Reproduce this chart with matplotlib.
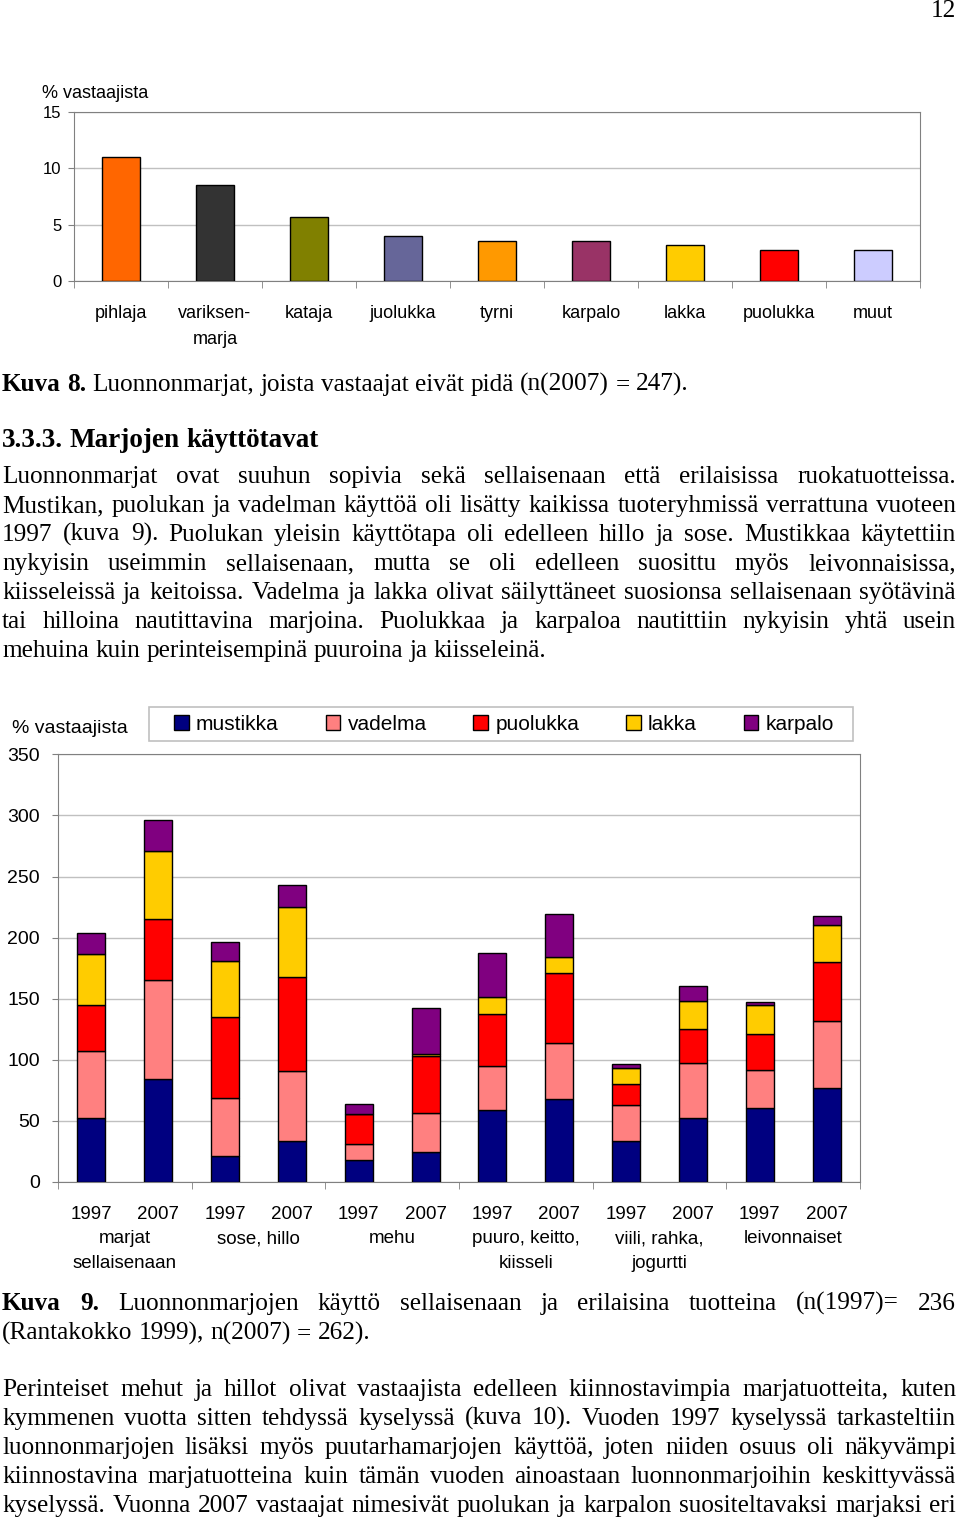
import numpy as np
import matplotlib.pyplot as plt
from matplotlib.transforms import IdentityTransform, blended_transform_factory
from matplotlib.patches import Rectangle

W, H = 960, 1523
plt.rcParams["font.family"] = ["Liberation Sans", "DejaVu Sans"]

# Kuva 8: marjat joista ei pidetä
marjat8 = ["pihlaja", "variksen-\nmarja", "kataja", "juolukka", "tyrni",
           "karpalo", "lakka", "puolukka", "muut"]
osuus8 = [11.0, 8.5, 5.7, 4.05, 3.6, 3.6, 3.25, 2.8, 2.8]
varit8 = ["#FF6600", "#333333", "#808000", "#666699", "#FF9900",
          "#993366", "#FFCC00", "#FF0000", "#CCCCFF"]

# Kuva 9: käyttötavat
vuodet = ["1997", "2007"] * 6
ryhmat = ["marjat\nsellaisenaan", "sose, hillo", "mehu", "puuro, keitto,\nkiisseli",
          "viili, rahka,\njogurtti", "leivonnaiset"]
sarjat = ["mustikka", "vadelma", "puolukka", "lakka", "karpalo"]
mustikka = [52.5, 84.5, 21.5, 33.5, 18, 24.5, 59, 68, 33.5, 52.5, 60.5, 77]
vadelma = [55, 81, 47.5, 57.5, 13, 32, 36, 45.5, 29.5, 45, 31.5, 55]
puolukka = [37, 50, 66, 77, 24.5, 47, 42.5, 57.5, 17.5, 28, 29.5, 48]
lakka = [42, 55, 45.5, 57, 0, 1, 14, 13, 12.5, 23, 23, 30.5]
karpalo = [17, 26, 16, 18, 8, 38, 36, 35, 3.5, 12, 3, 7.5]
varit9 = ["#000080", "#FF8080", "#FF0000", "#FFCC00", "#800080"]

fig = plt.figure(figsize=(W / 100, H / 100), dpi=100)
pix = IdentityTransform()


def akselit(ax):
    for s in ax.spines.values():
        s.set_color("#808080")
    ax.yaxis.grid(True, color="#C0C0C0", lw=1)
    ax.set_axisbelow(True)
    ax.tick_params(axis="y", length=4, color="#808080")
    ax.tick_params(axis="x", which="minor", length=5, color="#808080")


# ---- kuva 8
ax1 = fig.add_axes([74 / W, 1 - 281.3 / H, 846 / W, 169.6 / H])
x8 = np.arange(len(marjat8))
ax1.bar(x8, osuus8, width=0.4, color=varit8, edgecolor="black", linewidth=1, zorder=3)
ax1.set_xlim(-0.5, len(marjat8) - 0.5)
ax1.set_ylim(0, 15)
ax1.set_yticks([0, 5, 10, 15])
ax1.set_xticks([])
ax1.set_xticks(np.arange(-0.5, len(marjat8)), minor=True)
ax1.tick_params(axis="x", which="minor", labelbottom=False)
ax1.tick_params(axis="y", labelsize=12, pad=5)
akselit(ax1)
tr1 = blended_transform_factory(ax1.transData, pix)
for i, lab in enumerate(marjat8):
    for j, osa in enumerate(lab.split("\n")):
        ax1.text(i, H - 318.5 - 25 * j, osa, transform=tr1, ha="center", va="baseline", fontsize=13)
fig.text(42, H - 98, "% vastaajista", transform=pix, fontsize=13, va="baseline")

# ---- kuva 9
ax2 = fig.add_axes([58 / W, 1 - 1182 / H, 802 / W, 427.7 / H])
x9 = np.arange(len(vuodet))
pohja = np.zeros(len(vuodet))
kahvat = []
for nimi, arvot, vari in zip(sarjat, [mustikka, vadelma, puolukka, lakka, karpalo], varit9):
    b = ax2.bar(x9, arvot, 0.42, bottom=pohja, color=vari, edgecolor="black",
                linewidth=1, label=nimi, zorder=3)
    kahvat.append(b)
    pohja += np.array(arvot)
ax2.set_xlim(-0.5, len(vuodet) - 0.5)
ax2.set_ylim(0, 350)
ax2.set_yticks(np.arange(0, 351, 50))
ax2.set_xticks([])
ax2.set_xticks(np.arange(-0.5, len(vuodet), 2), minor=True)
ax2.tick_params(axis="x", which="minor", labelbottom=False)
ax2.tick_params(axis="y", labelsize=14, pad=9)
akselit(ax2)
tr2 = blended_transform_factory(ax2.transData, pix)
for i, v in enumerate(vuodet):
    ax2.text(i, H - 1219, v, transform=tr2, ha="center", va="baseline", fontsize=13.5)
for g, lab in enumerate(ryhmat):
    for j, osa in enumerate(lab.split("\n")):
        ax2.text(2 * g + 0.5, H - 1243 - 25 * j, osa, transform=tr2, ha="center",
                 va="baseline", fontsize=13.5)
fig.text(12, H - 733, "% vastaajista", transform=pix, fontsize=14, va="baseline")
fig.add_artist(Rectangle((149, H - 741), 704, 34, transform=pix, fill=False,
                         edgecolor="#C0C0C0", lw=1.2))
fig.legend(handles=kahvat, labels=sarjat, loc="center", bbox_to_anchor=(504 / W, 1 - 724 / H),
           ncol=5, frameon=False, fontsize=15, handlelength=0.7, handleheight=0.7,
           handletextpad=0.35, columnspacing=2.25, borderaxespad=0)

# ---- leipäteksti
fig.canvas.draw()
ren = fig.canvas.get_renderer()


def rivi(y, s, tasaa=True, lihava=0, koko=18.2, x0=2, x1=956, ha="left"):
    sanat = s.split(" ")
    tt = []
    for i, w in enumerate(sanat):
        tt.append(fig.text(0, H - y, w, transform=pix, fontsize=koko, family="Liberation Serif",
                           fontweight="bold" if i < lihava else "normal", va="baseline"))
    lev = [t.get_window_extent(ren).width for t in tt]
    if tasaa and len(sanat) > 1:
        vali = (x1 - x0 - sum(lev)) / (len(sanat) - 1)
    else:
        vali = koko * 100 / 72 * 0.25
    x = x0
    if ha == "right":
        x = x1 - sum(lev) - vali * (len(sanat) - 1)
    for t, l in zip(tt, lev):
        t.set_x(x)
        x += l + vali


rivi(17, "12", tasaa=False, ha="right", x1=956)
rivi(391, "Kuva 8. Luonnonmarjat, joista vastaajat eivät pidä (n(2007) = 247).", tasaa=False, lihava=2)
rivi(447, "3.3.3. Marjojen käyttötavat", tasaa=False, lihava=3, koko=19.5)
kappale1 = [
    "Luonnonmarjat ovat suuhun sopivia sekä sellaisenaan että erilaisissa ruokatuotteissa.",
    "Mustikan, puolukan ja vadelman käyttöä oli lisätty kaikissa tuoteryhmissä verrattuna vuoteen",
    "1997 (kuva 9). Puolukan yleisin käyttötapa oli edelleen hillo ja sose. Mustikkaa käytettiin",
    "nykyisin useimmin sellaisenaan, mutta se oli edelleen suosittu myös leivonnaisissa,",
    "kiisseleissä ja keitoissa. Vadelma ja lakka olivat säilyttäneet suosionsa sellaisenaan syötävinä",
    "tai hilloina nautittavina marjoina. Puolukkaa ja karpaloa nautittiin nykyisin yhtä usein",
    "mehuina kuin perinteisempinä puuroina ja kiisseleinä.",
]
for k, s in enumerate(kappale1):
    rivi(483 + 29 * k, s, tasaa=k < len(kappale1) - 1)

rivi(1310, "Kuva 9. Luonnonmarjojen käyttö sellaisenaan ja erilaisina tuotteina (n(1997)= 236", lihava=2)
rivi(1340, "(Rantakokko 1999), n(2007) = 262).", tasaa=False)

kappale2 = [
    "Perinteiset mehut ja hillot olivat vastaajista edelleen kiinnostavimpia marjatuotteita, kuten",
    "kymmenen vuotta sitten tehdyssä kyselyssä (kuva 10). Vuoden 1997 kyselyssä tarkasteltiin",
    "luonnonmarjojen lisäksi myös puutarhamarjojen käyttöä, joten niiden osuus oli näkyvämpi",
    "kiinnostavina marjatuotteina kuin tämän vuoden ainoastaan luonnonmarjoihin keskittyvässä",
    "kyselyssä. Vuonna 2007 vastaajat nimesivät puolukan ja karpalon suositeltavaksi marjaksi eri",
]
for k, s in enumerate(kappale2):
    rivi(1396 + 29 * k, s)

fig.savefig("out.png", dpi=100)
